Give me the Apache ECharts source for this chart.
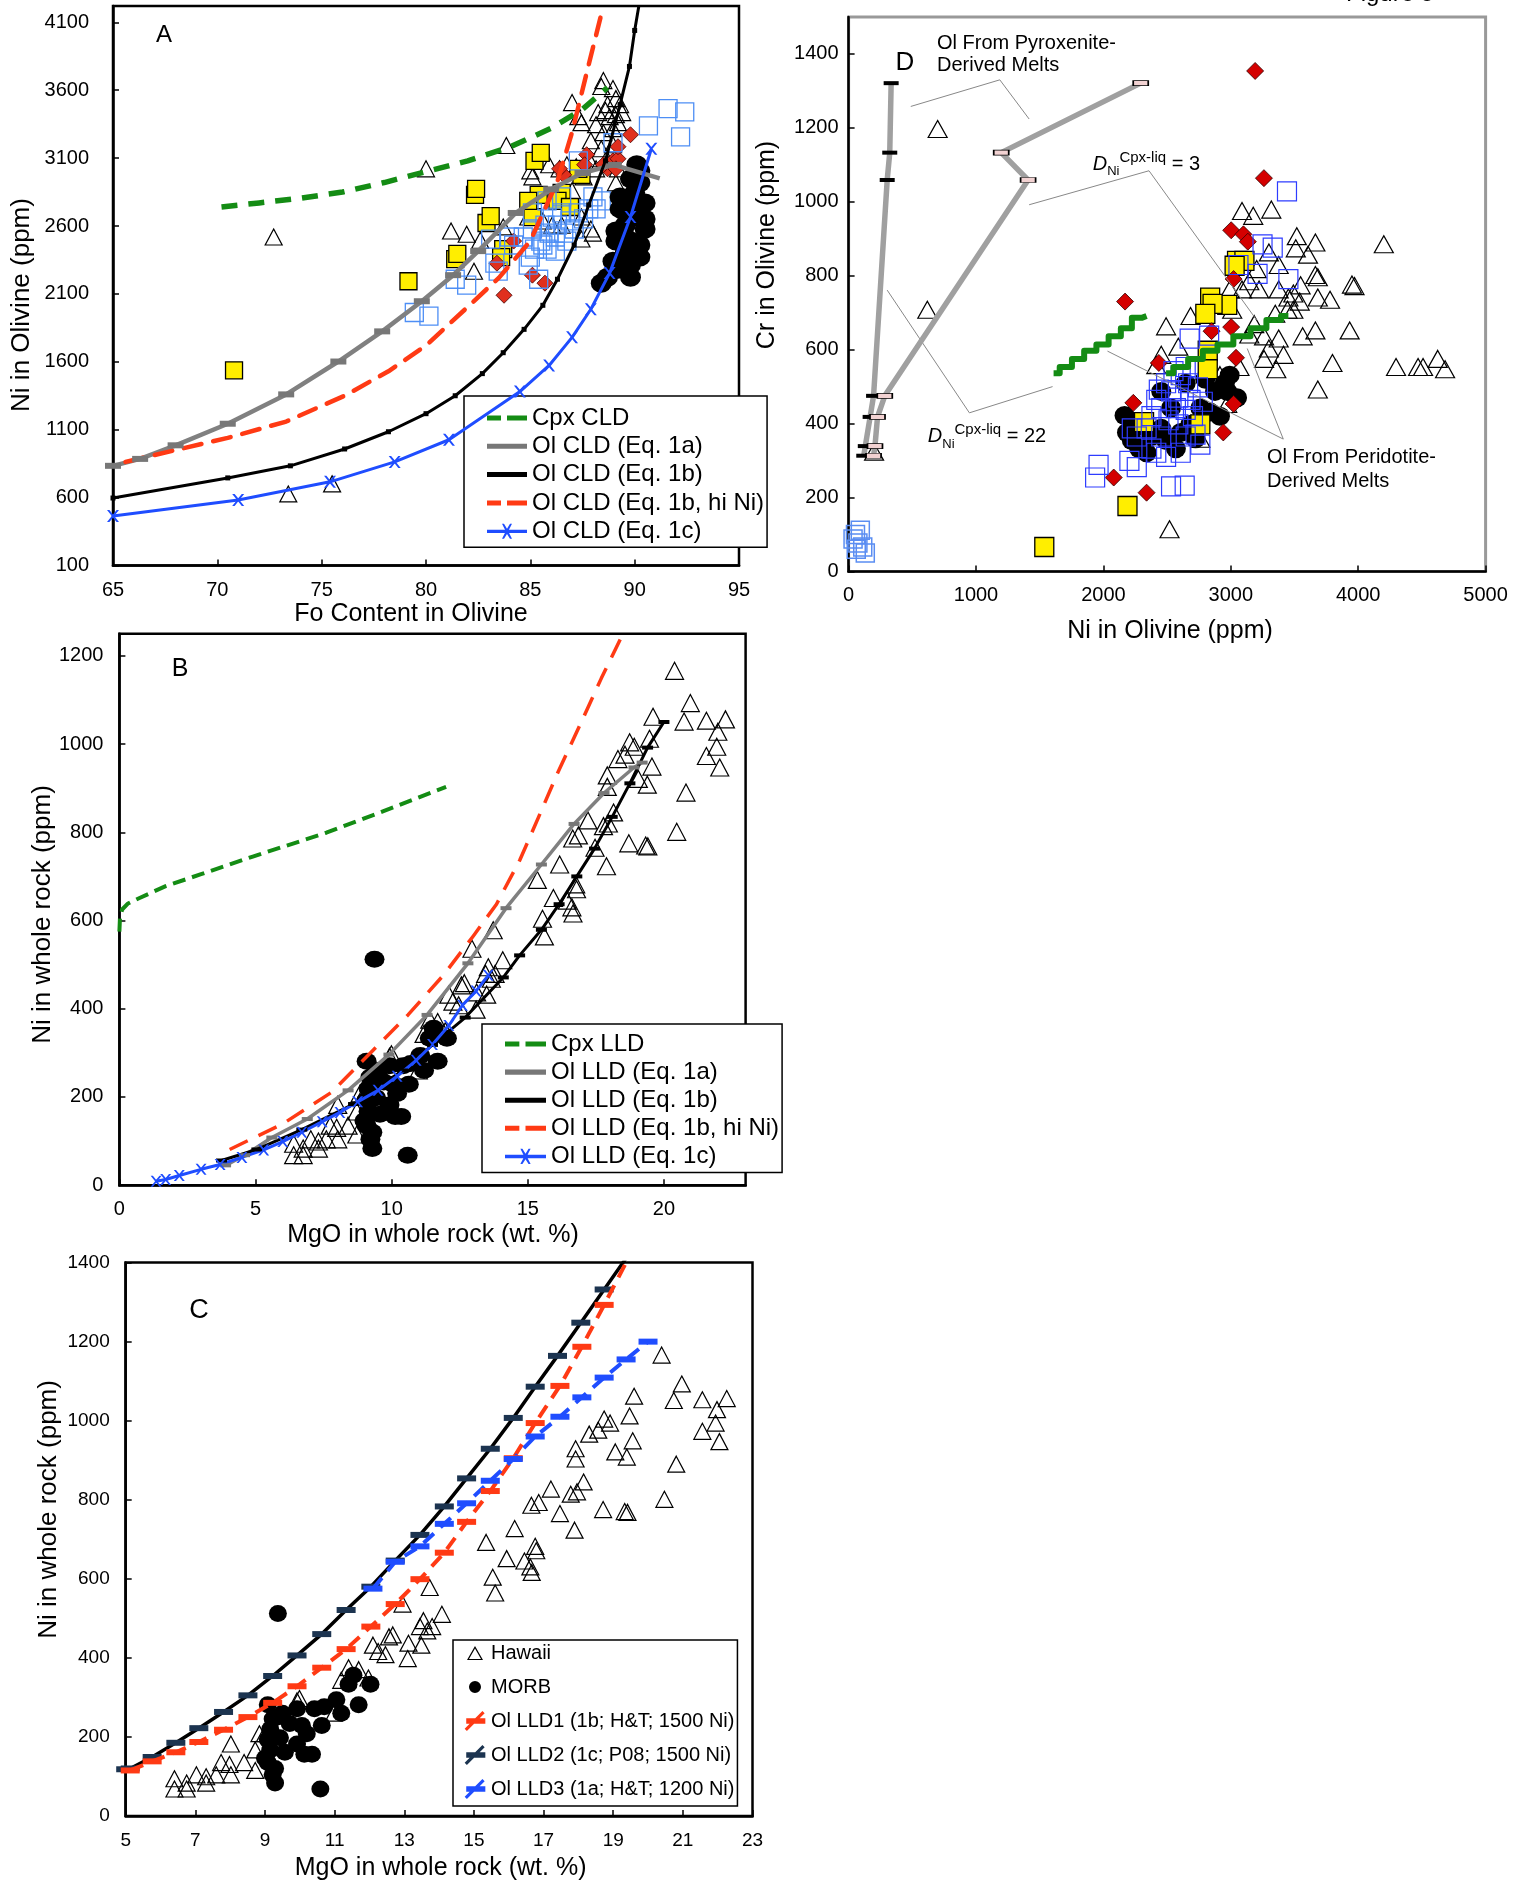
<!DOCTYPE html>
<html><head><meta charset="utf-8">
<script src="https://cdn.jsdelivr.net/npm/echarts@6/dist/echarts.min.js"></script>
<style>html,body{margin:0;padding:0;background:#fff}#c{width:1527px;height:1885px}</style>
</head><body><div id="c"></div><script>
const FONT = '"Liberation Sans", Arial, Helvetica, sans-serif';

// ---------- Panel A : Fo content vs Ni in olivine ----------
const A_axisX = [65, 95, 5];
const A_axisY = [100, 4220, 500];
const A_hawaii = [[72.7,2519],[73.4,627],[75.5,701],[80.0,3021],[83.85,3193],[81.2,2563],[81.95,2539],[82.6,2495],[82.3,2267],[83.7,2593],[85.0,3006],[85.1,2962],[85.9,3051],[86.4,3021],[86.75,3051],[87.0,3509],[87.45,3361],[87.3,3405],[88.5,3671],[88.4,3627],[88.96,3612],[89.1,3538],[88.7,3494],[89.3,3494],[88.8,3405],[88.15,3346],[88.5,3287],[88.96,3317],[87.9,3228],[88.4,3169],[88.96,3198],[87.8,3095],[88.15,3021],[88.6,3080],[89.1,2918],[87.0,2859],[87.45,2666],[87.9,2578],[88.0,2548],[86.5,2607],[86.05,2607],[85.6,2637],[85.1,2726],[84.9,2666],[89.1,3420],[89.4,3435],[88.6,3450],[89.2,3361],[88.25,3435],[87.2,3036],[87.55,2962],[89.2,3021],[87.45,2504]];
const A_morb = [[88.4,2179],[88.7,2223],[88.96,2341],[89.2,2282],[89.8,2223],[89.8,2312],[89.55,2400],[89.1,2489],[89.8,2489],[89.4,2548],[89.1,2563],[90.5,2578],[90.5,2652],[90.0,2666],[89.3,2726],[90.5,2770],[89.8,2770],[89.3,2814],[90.0,2844],[90.25,2918],[89.8,2947],[90.25,3006],[90.1,3051],[90.0,2962],[89.55,2519],[90.25,2460],[90.25,2371],[89.55,2607]];
const A_yellow = [[70.8,1537],[79.16,2193],[81.4,2356],[81.5,2394],[82.35,2829],[82.4,2873],[82.9,2622],[83.1,2672],[83.7,2430],[83.6,2371],[85.2,3080],[85.5,3139],[85.4,2829],[85.1,2666],[86.5,2844],[86.3,2785],[87.45,2977],[87.3,3021],[84.9,2785],[86.9,2740]];
const A_red = [[83.74,2090],[85.1,2238],[85.7,2179],[83.4,2326],[86.6,2977],[86.4,3021],[87.7,3125],[87.6,3051],[88.96,3080],[88.7,3021],[89.2,3095],[89.1,3021],[89.2,3184],[89.8,3272],[84.2,2489],[88.5,3051]];
const A_blue = [[79.44,1963],[80.14,1936],[81.4,2208],[81.95,2164],[83.1,2504],[83.3,2326],[83.46,2267],[84.9,2312],[85.0,2371],[85.4,2208],[84.2,2460],[84.66,2519],[85.1,2578],[85.1,2696],[85.5,2489],[85.7,2607],[85.8,2430],[86.05,2666],[86.2,2519],[86.3,2607],[86.5,2696],[86.6,2548],[86.9,2637],[87.1,2578],[87.3,2696],[87.55,2652],[87.8,2726],[88.0,2814],[88.15,2726],[88.4,2785],[87.3,3080],[86.5,2814],[85.9,2548],[85.6,2460],[85.2,2430],[86.2,2415],[88.96,3213],[90.66,3337],[91.6,3464],[92.4,3440],[92.2,3257],[85.8,2785],[86.75,2489],[84.0,2519]];
const A_cpxCLD = [[70.2,2740],[72,2770],[74,2805],[76,2850],[78,2920],[80,3000],[82,3080],[84,3180],[86,3320],[87.5,3460],[88.7,3620]];
const A_ol1a = [[65,834],[66.3,885],[68,985],[70.5,1144],[73.3,1360],[75.8,1602],[77.9,1824],[79.8,2046],[81.3,2238],[82.5,2415],[84.3,2696],[86,2870],[87.5,2990],[89,3050],[91.2,2950]];
const A_ol1b = [[65,597],[70.5,745],[73.5,834],[76.1,958],[78.2,1085],[80,1218],[81.4,1350],[82.7,1513],[83.7,1667],[84.7,1839],[85.6,2016],[86.3,2208],[87.1,2460],[87.8,2755],[88.6,3080],[89.3,3494],[89.75,3775],[90.0,4040],[90.2,4220]];
const A_ol1bHi = [[65.6,863],[68,950],[70.5,1040],[73.3,1160],[76.1,1350],[78.2,1530],[80,1720],[81.9,1990],[83.5,2220],[85,2490],[86.3,2930],[87,3290],[87.8,3790],[88.5,4220]];
const A_ol1c = [[65,464],[71,583],[75.4,716],[78.5,863],[81.1,1026],[84.5,1381],[85.9,1573],[87,1780],[87.9,1987],[88.8,2253],[89.8,2666],[90.8,3169]];

// ---------- Panel D : Ni vs Cr in olivine ----------
const D_axisX = [0, 5000, 1000];
const D_axisY = [0, 1500, 200];
const D_hawaii = [[699,1197],[618,708],[200,324],[2519,114],[3088,975],[3176,962],[3318,979],[3518,907],[3664,890],[3510,874],[3606,857],[4201,885],[3951,776],[3971,772],[3664,802],[3683,796],[3779,735],[3683,741],[3491,752],[3548,774],[3376,829],[3299,863],[3203,818],[3222,763],[3088,763],[3145,785],[2992,763],[3011,708],[2896,730],[2684,691],[2492,663],[2588,608],[2454,586],[2415,558],[3145,641],[3261,636],[3376,630],[3184,669],[3349,697],[3445,708],[3541,730],[3664,652],[3564,636],[3933,652],[3798,564],[3683,492],[4297,553],[4470,553],[4509,553],[4624,575],[4682,547],[3261,575],[3357,547],[3414,586],[3299,603],[2915,531],[3068,553],[2972,453],[2761,359],[3452,741],[3491,708],[3376,763]];
const D_morb = [[2166,422],[2185,376],[2223,354],[2281,332],[2339,321],[2377,365],[2454,387],[2492,354],[2569,332],[2607,376],[2684,398],[2761,442],[2838,431],[2876,487],[2953,509],[2991,531],[2972,487],[3049,470],[2915,420],[2723,359],[2800,520],[2646,509],[2454,487],[2531,442],[2243,387]];
const D_yellow = [[1536,66],[2189,177],[2319,404],[2838,741],[2972,721],[2857,724],[2800,697],[2819,597],[2819,547],[3049,840],[3107,840],[3030,827],[2761,398]];
const D_red = [[3191,1354],[3260,1064],[3003,923],[3099,912],[3134,892],[3022,791],[2170,730],[3003,661],[2849,650],[3041,578],[2435,564],[2235,456],[2941,376],[2081,254],[2339,213],[3022,453]];
const D_blue = [[2262,365],[2339,387],[2377,420],[2415,464],[2435,492],[2492,509],[2531,487],[2569,442],[2588,398],[2607,531],[2646,365],[2684,464],[2703,420],[2742,498],[2761,343],[2607,321],[2492,310],[2377,332],[2454,442],[2550,542],[2646,553],[2223,387],[2454,365],[2780,459],[2646,437],[2511,409],[2415,321],[2723,370],[2588,470],[2665,509],[1935,254],[1962,288],[2204,299],[2262,282],[2531,230],[2638,232],[2830,638],[2677,630],[3249,885],[3329,876],[3210,805],[3452,791],[3441,1028],[3060,829]];
const D_blueLight = [[54,100],[73,77],[111,66],[35,88],[92,111],[131,50],[60,60]];
const D_pyx22 = [[334,1321],[323,1133],[303,1059],[196,475],[169,418],[131,339],[119,313]];
const D_pyx3 = [[2293,1321],[1198,1133],[1409,1059],[284,475],[227,418],[207,339],[196,313]];
const D_cpx22 = [[1609,536],[1705,553],[1801,575],[1897,597],[1993,614],[2089,636],[2185,658],[2262,686],[2339,691]];
const D_cpx3 = [[2492,536],[2607,553],[2723,575],[2838,597],[2953,614],[3087,636],[3222,658],[3337,680],[3452,691]];
const D_leadPyx = [[488,1258],[1187,1330],[1417,1224]];
const D_lead3 = [[1417,992],[2358,1084],[3203,680]];
const D_lead22 = [[303,761],[948,429],[1601,500]];
const D_leadPer1 = [[2032,596],[3412,358]];
const D_leadPer2 = [[3129,603],[3412,358]];

// ---------- Panels B & C : MgO vs Ni in whole rock ----------
const B_axisX = [0, 23, 5];
const B_axisY = [0, 1250, 200];
const C_axisX = [5, 23, 2];
const C_axisY = [0, 1400, 200];
const WR_hawaii = [[20.39,1166],[20.97,1093],[20.74,1051],[21.56,1053],[22.26,1056],[21.98,1028],[21.94,994],[21.56,973],[22.05,947],[20.81,890],[20.47,801],[19.6,1062],[19.47,1012],[19.56,949],[19.06,921],[19.39,908],[18.71,775],[19.41,768],[17.89,723],[17.47,765],[16.65,786],[16.86,793],[17.21,827],[17.78,814],[17.96,820],[18.15,845],[17.92,929],[17.92,903],[18.31,966],[18.57,976],[18.74,1004],[18.91,994],[16.17,727],[15.35,692],[15.94,651],[16.45,645],[16.76,682],[16.79,671],[16.62,630],[16.66,616],[15.54,604],[15.61,564],[13.73,578],[12.95,536],[14.08,510],[13.55,494],[13.8,479],[13.66,468],[13.45,479],[12.67,458],[12.56,453],[13.12,437],[13.49,432],[12.1,432],[12.25,416],[12.46,408],[13.1,398],[11.4,375],[11.69,370],[11.19,343],[11.97,349],[10.98,260],[9.99,297],[9.92,291],[8.84,208],[8.72,167],[8.4,135],[8.02,182],[7.98,130],[7.74,135],[7.6,104],[8.02,104],[7.31,99],[7.03,104],[6.75,83],[6.4,94],[6.4,68],[6.75,68],[7.31,83],[8.72,115],[9.08,156],[9.0,208],[19.33,770]];
const WR_morb = [[9.37,512],[10.59,68],[9.08,281],[9.22,245],[9.15,219],[9.08,193],[9.15,167],[9.08,135],[9.22,104],[9.29,83],[9.36,250],[9.5,260],[9.71,234],[9.92,271],[10.06,229],[10.2,208],[10.42,271],[10.7,276],[10.63,229],[10.13,156],[10.35,156],[9.92,182],[9.57,161],[9.43,198],[11.05,294],[11.19,260],[11.4,333],[11.54,356],[12.03,333],[11.69,281],[9.0,146],[9.29,120]];
const B_cpxLLD = [[0,575],[0.02,605],[0.1,625],[0.3,638],[0.7,650],[1.7,678],[3,705],[4.9,745],[7.6,799],[9.7,848],[12,903]];
const B_ol1a = [[3.9,45],[4.6,68],[5.6,108],[6.9,150],[8.4,215],[9.9,296],[11.3,386],[12.8,503],[14.2,628],[15.5,727],[16.7,819],[17.8,889],[18.9,947],[19.2,958]];
const B_ol1b = [[3.75,56],[5.05,81],[6.7,126],[8.6,184],[10.4,260],[11.5,318],[12.7,380],[14.1,471],[14.7,521],[15.5,579],[16.15,637],[16.8,700],[17.45,763],[18.1,835],[18.75,911],[19.4,992],[20,1050]];
const B_ol1bHi = [[4.05,81],[6,139],[7.8,211],[9.3,305],[10.6,386],[11.9,476],[13,565],[13.85,637],[14.7,736],[15.4,835],[16.1,935],[16.9,1041],[17.7,1149],[18.55,1257]];
const B_ol1c = [[1.35,9],[1.7,13],[2.2,22],[3,36],[3.7,47],[4.5,63],[5.3,80],[6,99],[6.7,120],[7.45,144],[8.1,165],[8.75,189],[9.5,215],[10.2,247],[10.9,283],[11.5,319],[12.1,362],[12.6,408],[13.1,440],[13.55,476]];
const C_lld1 = [[5.13,115],[5.76,138],[6.44,161],[7.10,187],[7.81,218],[8.51,250],[9.22,286],[9.92,328],[10.63,375],[11.33,422],[12.04,479],[12.74,536],[13.45,599],[14.15,666],[14.79,744],[15.47,822],[16.13,905],[16.76,994],[17.47,1088],[18.10,1187],[18.74,1293],[19.37,1400]];
const C_lld2 = [[5.0,118],[5.13,120],[5.76,149],[6.44,185],[7.10,222],[7.81,263],[8.51,305],[9.22,354],[9.92,406],[10.63,460],[11.33,521],[12.04,580],[12.74,646],[13.45,711],[14.15,783],[14.79,854],[15.47,929],[16.13,1007],[16.76,1086],[17.40,1164],[18.07,1248],[18.74,1332],[19.4,1415]];
const C_lld3 = [[12.1,575],[12.74,643],[13.45,682],[14.15,739],[14.79,791],[15.47,848],[16.13,903],[16.76,960],[17.47,1010],[18.1,1059],[18.74,1109],[19.37,1155],[20.0,1200]];

// ---------- colours ----------
const GREEN = '#148c14', GRAY = '#808080', RED = '#ff3a14', BLUE = '#1f4dff', NAVY = '#1c3450';
const XSYM = 'path://M0,0L2,0L5,3.6L8,0L10,0L6,5L10,10L8,10L5,6.4L2,10L0,10L4,5Z';

function ax(gi, r, margin, hideMax, fs) {
  return {type:'value', gridIndex:gi, min:r[0], max:r[1], interval:r[2], splitLine:{show:false},
    axisLine:{show:true, onZero:false, lineStyle:{color:'#000', width:2.5}},
    axisTick:{show:true, inside:true, length:6, lineStyle:{color:'#000', width:1.5}},
    axisLabel:{color:'#000', fontSize:fs||20, fontFamily:FONT, margin:margin, showMaxLabel:!hideMax, showMinLabel:true,
      formatter:function(v){ return String(v); }}};
}
function sc(name, data, gi, sym, size, fill, stroke, bw, z) {
  return {type:'scatter', name, data, xAxisIndex:gi, yAxisIndex:gi, symbol:sym, symbolSize:size,
    itemStyle:{color:fill, borderColor:stroke, borderWidth:bw, opacity:1}, z:z, silent:true, clip:true};
}
function ln(name, data, gi, o) {
  const n = data.length;
  const d = o.noLastSym ? data.map((p,i)=> i===n-1 ? {value:p, symbol:'none'} : p) : data;
  return {type:'line', name, data:d, xAxisIndex:gi, yAxisIndex:gi, smooth:false,
    step:o.step||false,
    showSymbol: !!o.sym, symbol:o.sym||'none', symbolSize:o.symSize||6,
    itemStyle:{color:o.symColor||o.color, borderColor:o.symBorder||'transparent', borderWidth:o.symBorder?1:0},
    lineStyle:{color:o.color, width:o.width, type:o.type||'solid', cap:o.cap||'butt', join:'round'},
    z:o.z||5, silent:true, clip:true};
}

const series = [
  // ---- A ----
  sc('Hawaii A', A_hawaii, 0, 'triangle', [17,16], 'rgba(255,255,255,0)', '#000', 1.2, 2),
  sc('Yellow A', A_yellow, 0, 'rect', 17, '#ffee00', '#000', 1.3, 2),
  sc('Red A', A_red, 0, 'diamond', [16,16], '#e0301e', '#400', 0.8, 2),
  sc('Blue A', A_blue, 0, 'rect', 18, 'rgba(255,255,255,0)', '#4d8ef5', 1.3, 3),
  sc('MORB A', A_morb, 0, 'circle', [21,19], '#000', '#000', 0, 3),
  ln('Cpx CLD', A_cpxCLD, 0, {color:GREEN, width:5.5, type:[16,11]}),
  ln('Ol CLD (Eq. 1a)', A_ol1a, 0, {color:GRAY, width:4.5, sym:'rect', symSize:[16,6], symColor:'#777', noLastSym:true}),
  ln('Ol CLD (Eq. 1b)', A_ol1b, 0, {color:'#000', width:3, sym:'rect', symSize:[5,5], symColor:'#000', noLastSym:true}),
  ln('Ol CLD (Eq. 1b, hi Ni)', A_ol1bHi, 0, {color:RED, width:4.5, type:[18,12], cap:'round'}),
  ln('Ol CLD (Eq. 1c)', A_ol1c, 0, {color:BLUE, width:3, sym:XSYM, symSize:12, symColor:BLUE}),
  // ---- D ----
  sc('Hawaii D', D_hawaii, 1, 'triangle', [19,17], 'rgba(255,255,255,0)', '#000', 1.2, 2),
  sc('MORB D', D_morb, 1, 'circle', [20,19], '#000', '#000', 0, 2),
  sc('Yellow D', D_yellow, 1, 'rect', 19, '#ffee00', '#000', 1.3, 3),
  sc('Red D', D_red, 1, 'diamond', [17,17], '#d40000', '#300', 0.8, 3),
  sc('Blue D', D_blue, 1, 'rect', 19, 'rgba(255,255,255,0)', '#2e3cff', 1.2, 4),
  sc('Blue D2', D_blueLight, 1, 'rect', 18, 'rgba(255,255,255,0)', '#5a8df2', 1.5, 4),
  ln('Pyx22', D_pyx22, 1, {color:'#a0a0a0', width:5.5, sym:'rect', symSize:[15,4], symColor:'#000', z:6}),
  ln('Pyx3', D_pyx3, 1, {color:'#a0a0a0', width:5.5, sym:'rect', symSize:[15,5], symColor:'#f2d2d2', symBorder:'#000', z:6}),
  ln('Lead1', D_leadPyx, 1, {color:'#888', width:1}),
  ln('Lead2', D_lead3, 1, {color:'#888', width:1}),
  ln('Lead3', D_lead22, 1, {color:'#888', width:1}),
  ln('Lead4', D_leadPer1, 1, {color:'#888', width:1, z:7}),
  ln('Lead5', D_leadPer2, 1, {color:'#888', width:1, z:7}),
  ln('Cpx22', D_cpx22, 1, {color:GREEN, width:6, step:'middle', z:7}),
  ln('Cpx3', D_cpx3, 1, {color:GREEN, width:6, step:'middle', z:7}),
  // ---- B ----
  sc('Hawaii B', WR_hawaii, 2, 'triangle', [18,17], 'rgba(255,255,255,0)', '#000', 1.2, 2),
  sc('MORB B', WR_morb, 2, 'circle', [20,17], '#000', '#000', 0, 3),
  ln('Cpx LLD', B_cpxLLD, 2, {color:GREEN, width:4, type:[13,7]}),
  ln('Ol LLD (Eq. 1a)', B_ol1a, 2, {color:GRAY, width:3.5, sym:'rect', symSize:[11,4], symColor:'#777'}),
  ln('Ol LLD (Eq. 1b)', B_ol1b, 2, {color:'#000', width:3, sym:'rect', symSize:[11,4], symColor:'#000'}),
  ln('Ol LLD (Eq. 1b, hi Ni)', B_ol1bHi, 2, {color:RED, width:3.5, type:[20,12]}),
  ln('Ol LLD (Eq. 1c)', B_ol1c, 2, {color:BLUE, width:3, sym:XSYM, symSize:11, symColor:BLUE}),
  // ---- C ----
  sc('Hawaii', WR_hawaii, 3, 'triangle', [17,16], 'rgba(255,255,255,0)', '#000', 1.2, 2),
  sc('MORB', WR_morb, 3, 'circle', [18,17], '#000', '#000', 0, 3),
  ln('Ol LLD2 (1c; P08; 1500 Ni)', C_lld2, 3, {color:'#000', width:3.5, sym:'rect', symSize:[19,6], symColor:NAVY, noLastSym:true, z:5}),
  ln('Ol LLD1 (1b; H&T; 1500 Ni)', C_lld1, 3, {color:RED, width:4, type:[14,9], sym:'rect', symSize:[19,6], symColor:RED, noLastSym:true, z:6}),
  ln('Ol LLD3 (1a; H&T; 1200 Ni)', C_lld3, 3, {color:BLUE, width:4, type:[14,9], sym:'rect', symSize:[19,6], symColor:BLUE, z:6})
];

const ICON_DASH = 'path://M0,0h14v5h-14z M20,0h20v5h-20z';
const ICON_SOLID = 'path://M0,0h40v5h-40z';
const ICON_X = 'path://M0,6h40v3.2h-40z M15,0L17,0L20,5L23,0L25,0L21.2,7.6L25,15L23,15L20,10.2L17,15L15,15L18.8,7.6Z';
const ICON_SLASH = 'path://M0.6,17.4L16.4,1.6L18.4,3.6L2.6,19.4Z M2,8h17v5h-17z';
const ICON_DOT = 'path://M0,0L0.05,0L0,0.05Z M20,20L19.95,20L20,19.95Z M10,4A6,6 0 1,1 10,16A6,6 0 1,1 10,4Z';
const ICON_TRI = 'path://M0,0L0.05,0L0,0.05Z M22,20L21.95,20L22,19.95Z M11,3L19,17L3,17Z M11,5.6L5,15.9L17,15.9Z';

const legStyle = {orient:'vertical', backgroundColor:'#fff', borderColor:'#000', borderWidth:1.5, selectedMode:false, align:'left'};
const legends = [
  Object.assign({left:464, top:396, padding:[10,3,4,23], itemWidth:40, itemHeight:24, itemGap:4.3,
    textStyle:{fontSize:24, fontFamily:FONT, color:'#000', lineHeight:24},
    data:[{name:'Cpx CLD', icon:ICON_DASH},{name:'Ol CLD (Eq. 1a)', icon:ICON_SOLID},{name:'Ol CLD (Eq. 1b)', icon:ICON_SOLID},{name:'Ol CLD (Eq. 1b, hi Ni)', icon:ICON_DASH},{name:'Ol CLD (Eq. 1c)', icon:ICON_X}]}, legStyle),
  Object.assign({left:482, top:1024, padding:[8,3,4,23], itemWidth:41, itemHeight:24, itemGap:4.1,
    textStyle:{fontSize:24, fontFamily:FONT, color:'#000', lineHeight:24},
    data:[{name:'Cpx LLD', icon:ICON_DASH},{name:'Ol LLD (Eq. 1a)', icon:ICON_SOLID},{name:'Ol LLD (Eq. 1b)', icon:ICON_SOLID},{name:'Ol LLD (Eq. 1b, hi Ni)', icon:ICON_DASH},{name:'Ol LLD (Eq. 1c)', icon:ICON_X}]}, legStyle),
  Object.assign({left:453, top:1640, padding:[3,3,7,11], itemWidth:22, itemHeight:20, itemGap:14,
    textStyle:{fontSize:20, fontFamily:FONT, color:'#000', lineHeight:20},
    data:[{name:'Hawaii', icon:ICON_TRI, itemStyle:{color:'#000', borderWidth:0}},{name:'MORB', icon:ICON_DOT},{name:'Ol LLD1 (1b; H&T; 1500 Ni)', icon:ICON_SLASH},{name:'Ol LLD2 (1c; P08; 1500 Ni)', icon:ICON_SLASH},{name:'Ol LLD3 (1a; H&T; 1200 Ni)', icon:ICON_SLASH}]}, legStyle)
];

function txt(x, y, text, size, rot) {
  return {type:'text', x:x, y:y, rotation:rot||0, silent:true, z:100,
    style:{text:text, font:size+'px '+FONT, fill:'#000', textAlign:'center', textVerticalAlign:'middle', align:'center', verticalAlign:'middle'}};
}
const subRich = {
  d:{fontSize:20, fontStyle:'italic', fontFamily:FONT, lineHeight:28, verticalAlign:'middle', fill:'#000'},
  s:{fontSize:13, fontFamily:FONT, lineHeight:28, verticalAlign:'bottom', fill:'#000'},
  p:{fontSize:15, fontFamily:FONT, lineHeight:28, verticalAlign:'top', fill:'#000'},
  n:{fontSize:20, fontFamily:FONT, lineHeight:28, verticalAlign:'middle', fill:'#000'}
};
function richTxt(x, y, text) {
  return {type:'text', x:x, y:y, silent:true, z:100,
    style:{text:text, rich:subRich, textAlign:'left', align:'left', textVerticalAlign:'middle', verticalAlign:'middle'}};
}
function leftTxt(x, y, text, size) {
  return {type:'text', x:x, y:y, silent:true, z:100,
    style:{text:text, font:size+'px '+FONT, fill:'#000', textAlign:'left', align:'left', textVerticalAlign:'middle', verticalAlign:'middle'}};
}

const figTitle = txt(1390, 6, 'Figure 5', 24);
figTitle.style.textVerticalAlign = 'bottom';
figTitle.style.verticalAlign = 'bottom';

const graphic = [
  txt(411, 614.5, 'Fo Content in Olivine', 25),
  txt(22, 305, 'Ni in Olivine (ppm)', 26, Math.PI/2),
  txt(1170, 631, 'Ni in Olivine (ppm)', 25),
  txt(767, 245, 'Cr in Olivine (ppm)', 25, Math.PI/2),
  txt(433, 1235.5, 'MgO in whole rock (wt. %)', 25),
  txt(43, 914.5, 'Ni in whole rock (ppm)', 26, Math.PI/2),
  txt(440.6, 1868.5, 'MgO in whole rock (wt. %)', 25),
  txt(49, 1509.4, 'Ni in whole rock (ppm)', 26, Math.PI/2),
  txt(164, 35, 'A', 24),
  txt(180, 669.5, 'B', 25),
  txt(199, 1311, 'C', 27),
  txt(905, 63, 'D', 26),
  figTitle,
  leftTxt(937, 43, 'Ol From Pyroxenite-', 20),
  leftTxt(937, 65.5, 'Derived Melts', 20),
  leftTxt(1267, 457, 'Ol From Peridotite-', 20),
  leftTxt(1267, 481, 'Derived Melts', 20),
  richTxt(1092.7, 164, '{d|D}{s|Ni}{p|Cpx-liq}{n| = 3}'),
  richTxt(927.8, 436.7, '{d|D}{s|Ni}{p|Cpx-liq}{n| = 22}')
];

const option = {
  animation:false,
  backgroundColor:'#fff',
  grid:[
    {left:113, top:6, width:626, height:559.5, show:true, borderColor:'#000', borderWidth:2.5, backgroundColor:'transparent'},
    {left:848.6, top:17, width:637, height:554.4, show:true, borderColor:'#999', borderWidth:3, backgroundColor:'transparent'},
    {left:119.4, top:633.8, width:626.2, height:551.4, show:true, borderColor:'#000', borderWidth:2.5, backgroundColor:'transparent'},
    {left:125.7, top:1262.6, width:626.8, height:553.3, show:true, borderColor:'#000', borderWidth:2.5, backgroundColor:'transparent'}
  ],
  xAxis:[ax(0, A_axisX, 15, false), ax(1, D_axisX, 14, false), ax(2, B_axisX, 14, true), ax(3, C_axisX, 15, false, 19)],
  yAxis:[ax(0, A_axisY, 24, true), ax(1, D_axisY, 10, true), ax(2, B_axisY, 16, true), ax(3, C_axisY, 16, false, 19)],
  legend:legends,
  graphic:graphic,
  series:series
};
const chart = echarts.init(document.getElementById('c'), null, {renderer:'canvas'});
chart.setOption(option);
</script></body></html>
